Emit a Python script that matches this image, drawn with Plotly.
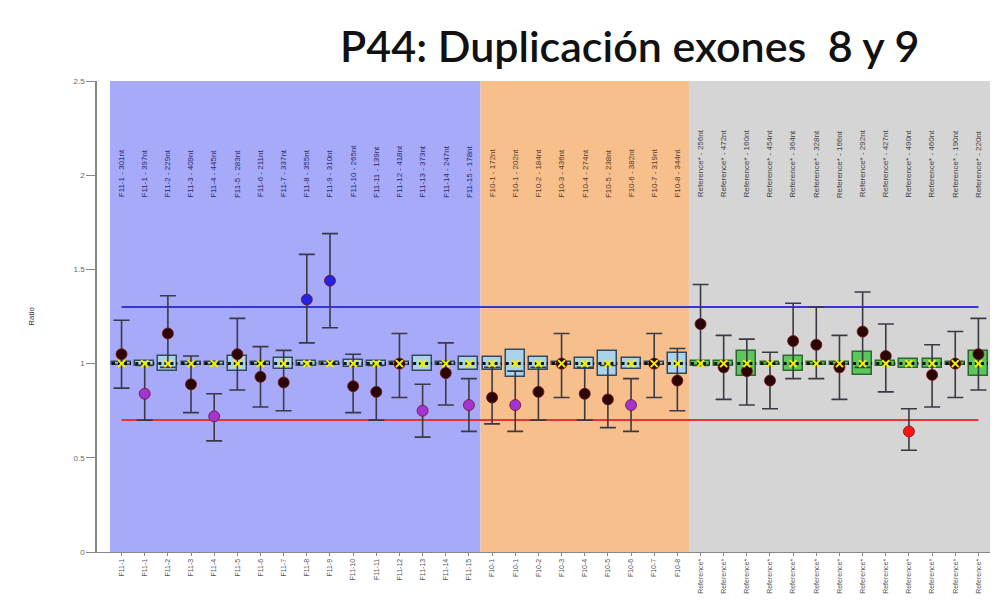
import plotly.graph_objects as go

# ---------------- data ----------------
probes = (["F11-1", "F11-1", "F11-2", "F11-3", "F11-4", "F11-5", "F11-6", "F11-7", "F11-8", "F11-9",
           "F11-10", "F11-11", "F11-12", "F11-13", "F11-14", "F11-15"]
          + ["F10-1", "F10-1", "F10-2", "F10-3", "F10-4", "F10-5", "F10-6", "F10-7", "F10-8"]
          + ["Reference*"] * 13)
sizes = ["301nt", "397nt", "229nt", "409nt", "445nt", "283nt", "211nt", "337nt", "355nt", "310nt",
         "265nt", "139nt", "418nt", "373nt", "247nt", "178nt",
         "172nt", "202nt", "184nt", "436nt", "274nt", "238nt", "382nt", "319nt", "344nt",
         "256nt", "472nt", "160nt", "454nt", "364nt", "328nt", "166nt", "292nt", "427nt", "490nt",
         "460nt", "190nt", "220nt"]
groups = ["F11"] * 16 + ["F10"] * 9 + ["Ref"] * 13

ratio = [1.05, 0.84, 1.16, 0.89, 0.72, 1.05, 0.93, 0.90, 1.34, 1.44, 0.88, 0.85, 1.00, 0.75, 0.95, 0.78,
         0.82, 0.78, 0.85, 1.00, 0.84, 0.81, 0.78, 1.00, 0.91,
         1.21, 0.98, 0.96, 0.91, 1.12, 1.10, 0.98, 1.17, 1.04, 0.64, 0.94, 1.00, 1.05]
upper = [1.23, 0.99, 1.36, 1.04, 0.84, 1.24, 1.09, 1.07, 1.58, 1.69, 1.05, 0.99, 1.16, 0.89, 1.11, 0.92,
         0.98, 0.96, 0.98, 1.16, 0.98, 0.99, 0.92, 1.16, 1.08,
         1.42, 1.15, 1.13, 1.06, 1.32, 1.30, 1.15, 1.38, 1.21, 0.76, 1.10, 1.17, 1.24]
lower = [0.87, 0.70, 0.98, 0.74, 0.59, 0.86, 0.77, 0.75, 1.11, 1.19, 0.74, 0.70, 0.82, 0.61, 0.78, 0.64,
         0.68, 0.64, 0.70, 0.82, 0.70, 0.66, 0.64, 0.82, 0.75,
         0.99, 0.81, 0.78, 0.76, 0.92, 0.92, 0.81, 0.98, 0.85, 0.54, 0.77, 0.82, 0.86]
status = ["n", "del", "n", "n", "del", "n", "n", "n", "dup", "dup", "n", "n", "n", "del", "n", "del",
          "n", "del", "n", "n", "n", "n", "del", "n", "n",
          "n", "n", "n", "n", "n", "n", "n", "n", "n", "out", "n", "n", "n"]
box_half = [0.01, 0.015, 0.04, 0.01, 0.01, 0.04, 0.01, 0.03, 0.015, 0.01, 0.02, 0.015, 0.01, 0.04, 0.01, 0.035,
            0.035, 0.07, 0.035, 0.01, 0.03, 0.065, 0.03, 0.01, 0.055,
            0.015, 0.015, 0.065, 0.01, 0.04, 0.01, 0.01, 0.06, 0.015, 0.025, 0.025, 0.01, 0.065]
ref_value = 1.0
upper_threshold = 1.3
lower_threshold = 0.7
y_ticks = [0, 0.5, 1, 1.5, 2, 2.5]
title_text = "P44: Duplicación exones  8 y 9"

# ---------------- styling ----------------
region_colors = {"F11": "#a7aaf8", "F10": "#f6bf8c", "Ref": "#d5d5d5"}
label_colors = {"F11": "#2a2a6a", "F10": "#5a3a28", "Ref": "#444444"}
dot_colors = {"n": "#2b0606", "del": "#a234d4", "dup": "#2323e6", "out": "#ff1414"}

n = len(probes)
xs = list(range(n))

fig = go.Figure()

# background regions per group
start = 0
for i in range(1, n + 1):
    if i == n or groups[i] != groups[start]:
        fig.add_shape(type="rect", xref="x", yref="y", x0=start - 0.5, x1=i - 0.5, y0=0, y1=2.5,
                      fillcolor=region_colors[groups[start]], line_width=0, layer="below")
        start = i

# threshold lines
fig.add_trace(go.Scatter(x=[xs[0], xs[-1]], y=[upper_threshold] * 2, mode="lines",
                         line=dict(color="#3636d2", width=2), hoverinfo="skip", showlegend=False))
fig.add_trace(go.Scatter(x=[xs[0], xs[-1]], y=[lower_threshold] * 2, mode="lines",
                         line=dict(color="#e83434", width=2), hoverinfo="skip", showlegend=False))

# boxes around the reference value
for grp, fill, edge in [(("F11", "F10"), "#a9d3ea", "#34485a"), (("Ref",), "#5cc65c", "#2a6a2a")]:
    idx = [i for i in xs if groups[i] in grp]
    fig.add_trace(go.Bar(x=idx, y=[2 * box_half[i] for i in idx],
                         base=[ref_value - box_half[i] for i in idx],
                         width=0.82, marker=dict(color=fill, line=dict(color=edge, width=1.5)),
                         showlegend=False, hoverinfo="skip"))

# dashed median segments
mx, my = [], []
for i in xs:
    mx += [i - 0.41, i + 0.41, None]
    my += [ref_value, ref_value, None]
fig.add_trace(go.Scatter(x=mx, y=my, mode="lines", line=dict(color="#111111", width=3, dash="3px,3px"),
                         hoverinfo="skip", showlegend=False))

# error bars + ratio dots
fig.add_trace(go.Scatter(
    x=xs, y=ratio, mode="markers",
    marker=dict(size=11, color=[dot_colors[s] for s in status],
                line=dict(color="#7a1010", width=0.8)),
    error_y=dict(type="data", symmetric=False,
                 array=[u - r for u, r in zip(upper, ratio)],
                 arrayminus=[r - l for r, l in zip(ratio, lower)],
                 color="#3a3a44", thickness=1.6, width=8),
    showlegend=False))

# yellow crosses at reference value
fig.add_trace(go.Scatter(x=xs, y=[ref_value] * n, mode="markers",
                         marker=dict(symbol="x-thin", size=7, color="#f4f000",
                                     line=dict(color="#f4f000", width=2)),
                         hoverinfo="skip", showlegend=False))

# top rotated labels
for i in xs:
    fig.add_annotation(x=i, y=1.87, xref="x", yref="y", text=f"{probes[i]} - {sizes[i]}",
                       textangle=-90, showarrow=False, yanchor="bottom",
                       font=dict(family="Liberation Sans", size=8, color=label_colors[groups[i]]))

# title
fig.add_annotation(xref="paper", yref="paper", x=0.596, y=1.0, yshift=36, text=title_text,
                   showarrow=False, font=dict(family="Lato", size=43, color="#111111", weight=600),
                   xanchor="center", yanchor="middle")

fig.update_layout(
    width=1006, height=610,
    margin=dict(l=97, r=16, t=81, b=58),
    paper_bgcolor="white", plot_bgcolor="white",
    bargap=0,
    xaxis=dict(range=[-1.06, n - 0.5], tickmode="array", tickvals=xs, ticktext=probes,
               tickangle=-90, tickfont=dict(family="Liberation Sans", size=7, color="#555555"),
               showgrid=False, zeroline=False, showline=True, linecolor="#888888",
               ticks="outside", ticklen=3, tickcolor="#888888"),
    yaxis=dict(range=[0, 2.5], tickvals=y_ticks, ticktext=[f"{v:g}" for v in y_ticks],
               tickfont=dict(family="Liberation Sans", size=8, color="#666666"),
               showgrid=False, zeroline=False, showline=True, linecolor="#888888", linewidth=1.5,
               ticks="outside", ticklen=9, tickcolor="#888888",
               title=dict(text="Ratio", font=dict(family="Liberation Sans", size=8, color="#333333"),
                          standoff=38)),
)

fig.write_html("out.html")
